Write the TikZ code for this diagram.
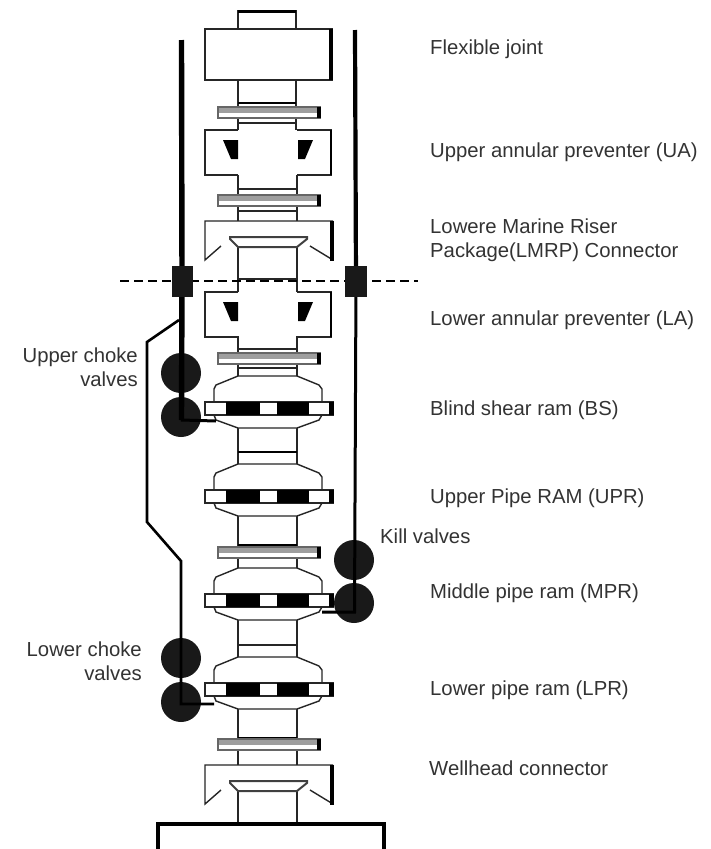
\documentclass[tikz,border=0pt]{standalone}
\usepackage{fontspec}
\setmainfont{Liberation Sans}
\begin{document}
\begin{tikzpicture}[x=1pt,y=-1pt,
  outl/.style={draw=black!85,line width=1.4pt,line join=miter},
  heavy/.style={draw=black,line width=3.2pt},
  lbl/.style={inner sep=0pt,font=\fontsize{20.3pt}{24.5pt}\selectfont,text=black!80,align=left},
  lblr/.style={inner sep=0pt,font=\fontsize{20.3pt}{24.5pt}\selectfont,text=black!80,align=right},
  valve/.style={circle,fill=black!90,draw=none,minimum size=40pt,inner sep=0pt},
  clamp/.style={rectangle,fill=black!90,draw=none,minimum width=21pt,minimum height=31pt,inner sep=0pt},
  blk/.style={fill=black,draw=none},
  flangebar/.pic={
    \fill[white] (218,0) rectangle (320,11);
    \fill[black!38] (218,0) rectangle (320,6);
    \draw[black!60,line width=1.1pt] (218,0) rectangle (320,11);
    \fill[black] (316.5,0) rectangle (320.5,11);
  },
  rambody/.pic={
    \draw[outl,fill=white] (238,0) -- (216,9) -- (214,13) -- (214,26) -- (214,39) -- (216,44) -- (238,52) -- (297,52) -- (319,44) -- (322,39) -- (322,13) -- (319,9) -- (297,0) -- cycle;
    \draw[outl,fill=white] (205,26) rectangle (333,39);
    \fill[blk] (226,26) rectangle (260,39);
    \fill[blk] (277,26) rectangle (309,39);
    \fill[blk] (329,26) rectangle (333.5,39);
  },
  annular/.pic={
    \draw[outl,fill=white] (238,0) -- (205,0) -- (205,45) -- (238,45);
    \draw[outl,fill=white] (297,0) -- (331,0) -- (331,45) -- (297,45);
    \draw[draw=black,line width=2.6pt] (331,0) -- (331,45);
    \fill[blk] (223,10) -- (238,10) -- (238,29) -- (231,29) -- cycle;
    \fill[blk] (298,10) -- (313,10) -- (305,29) -- (298,29) -- cycle;
  },
  connectorp/.pic={
    \draw[outl] (221,25) -- (205,39) -- (205,0) -- (333,0);
    \draw[draw=black!85,line width=1.4pt] (310,25) -- (333,39);
    \draw[draw=black,line width=3.4pt] (332,0) -- (332,40);
    \draw[draw=black!75,line width=2pt,fill=white] (230,16) -- (307,16) -- (307,18) -- (297,26) -- (238,26) -- (230,18) -- cycle;
  }]
\useasboundingbox (0,0) rectangle (711,849);
\fill[white] (0,0) rectangle (711,849);

% stack necks
\draw[outl] (238,29) -- (238,11) -- (296,11) -- (296,29);
\draw[draw=black,line width=3pt] (238,11) -- (296,11);
\draw[outl] (205,29) rectangle (332,80);
\draw[draw=black,line width=3.4pt] (331,29) -- (331,80);
\draw[outl] (238,80) -- (238,130) (296,80) -- (296,130);
\draw[draw=black,line width=2.6pt] (238,103) -- (296,103);
\draw[outl] (238,123) -- (297,123);
\draw[outl] (238,175) -- (238,221) (297,175) -- (297,221);
\draw[outl] (238,189) -- (297,189) (238,211) -- (297,211);
\draw[outl] (238,247) -- (238,292) (297,247) -- (297,292);
\draw[outl] (238,279) -- (297,279);
\draw[outl] (238,336) -- (238,376) (297,336) -- (297,376);
\draw[outl] (238,349) -- (297,349) (238,368) -- (297,368);
\draw[outl] (238,428) -- (238,464) (297,428) -- (297,464);
\draw[draw=black,line width=2.6pt] (238,452) -- (297,452);
\draw[outl] (238,516) -- (238,570) (297,516) -- (297,570);
\draw[draw=black,line width=2.6pt] (238,545) -- (297,545);
\draw[outl] (238,620) -- (238,657) (297,620) -- (297,657);
\draw[outl] (238,645) -- (297,645);
\draw[outl] (238,709) -- (238,765) (297,709) -- (297,765);
\draw[draw=black,line width=2.2pt] (238,738) -- (297,738) (238,750) -- (297,750);
\draw[outl] (238,791) -- (238,824) (297,791) -- (297,824);

% flanges
\pic at (0,107) {flangebar};
\pic at (0,195) {flangebar};
\pic at (0,353) {flangebar};
\pic at (0,547) {flangebar};
\pic at (0,739) {flangebar};

% annulars, connectors, rams
\pic at (0,130) {annular};
\pic at (0,292) {annular};
\pic at (0,221) {connectorp};
\pic at (0,765) {connectorp};
\pic at (0,376) {rambody};
\pic at (0,464) {rambody};
\pic at (0,568) {rambody};
\pic at (0,657) {rambody};

% base
\draw[draw=black,line width=3.6pt] (158,849) -- (158,824) -- (384,824) -- (384,849);

% dashed separation
\coordinate (dl) at (120,281);
\coordinate (dr) at (418,281);
\draw[draw=black,line width=1.3pt,dash pattern=on 9pt off 5pt] (dl) -- (dr);

% clamps and valves
\node[clamp] (cl) at (182,281.5) {};
\node[clamp,minimum width=22pt] (cr) at (356,281.5) {};
\node[valve] (uc1) at (181,373) {};
\node[valve] (uc2) at (181,417) {};
\node[valve] (lc1) at (181,658) {};
\node[valve] (lc2) at (181,702) {};
\node[valve] (k1) at (354,560) {};
\node[valve] (k2) at (354,603) {};

% lines
\coordinate (ltop) at (181.5,40);
\coordinate (rtop) at (355,30);
\coordinate (bsin) at (216,421);
\coordinate (lprin) at (214,704);
\coordinate (mprin) at (322,612);
\draw[heavy,line width=5.4pt] (ltop) -- (cl);
\draw[heavy,line width=4.2pt] (rtop) -- (cr);
\draw[heavy,line width=5.4pt] (cl) -- (181.5,420);
\draw[draw=black,line width=3pt] (181,420) -- (bsin);
\draw[draw=black,line width=2.6pt] (179,320) -- (147,342) -- (147,522) -- (181,561) -- (181,704) -- (lprin);
\draw[draw=black,line width=3pt] (cr) -- (354.5,612) -- (mprin);

% labels
\node[lbl,anchor=base west] (t1) at (430,54) {Flexible joint};
\node[lbl,anchor=base west] (t2) at (430,157) {Upper annular preventer (UA)};
\node[lbl,anchor=west] (t3) at (430,240) {Lowere Marine Riser\\Package(LMRP) Connector};
\node[lbl,anchor=base west] (t4) at (430,325) {Lower annular preventer (LA)};
\node[lbl,anchor=base west] (t5) at (430,415) {Blind shear ram (BS)};
\node[lbl,anchor=base west] (t6) at (430,503) {Upper Pipe RAM (UPR)};
\node[lbl,anchor=base west] (t7) at (430,598) {Middle pipe ram (MPR)};
\node[lbl,anchor=base west] (t8) at (430,695) {Lower pipe ram (LPR)};
\node[lbl,anchor=base west] (t9) at (429,775) {Wellhead connector};
\node[lbl,anchor=base west] (t10) at (380,543) {Kill valves};
\node[lblr,anchor=east] (t11) at (138,367) {Upper choke\\valves};
\node[lblr,anchor=east] (t12) at (142,661) {Lower choke\\valves};
\end{tikzpicture}
\end{document}
